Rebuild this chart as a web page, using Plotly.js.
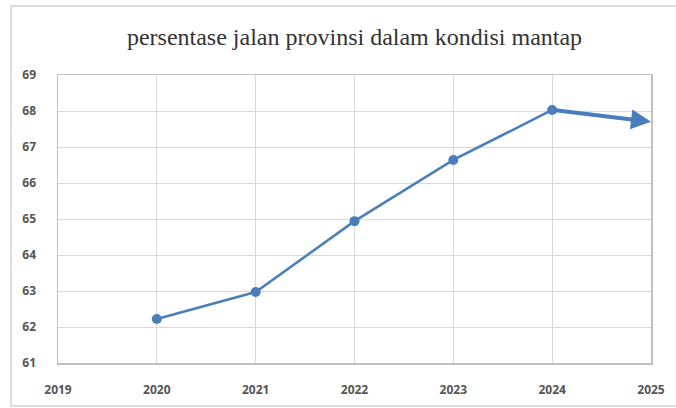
<!DOCTYPE html>
<html>
<head>
<meta charset="utf-8">
<script src="https://cdn.plot.ly/plotly-3.0.1.min.js"></script>
<style>html,body{margin:0;padding:0;background:#fff;}#chart{width:676px;height:408px;}</style>
</head>
<body>
<div id="chart"></div>
<script>
const years = [2020, 2021, 2022, 2023, 2024];
const values = [62.22, 62.97, 64.94, 66.64, 68.03];
const arrowFrom = [2024, 68.03];
const arrowTo = [2025, 67.7];
const xTicks = [2019, 2020, 2021, 2022, 2023, 2024, 2025];
const yTicks = [61, 62, 63, 64, 65, 66, 67, 68, 69];
const titleText = 'persentase jalan provinsi dalam kondisi mantap';

const blue = '#4a7ebb';
const tickFont = {family: 'Open Sans, sans-serif', size: 12, color: '#555555', weight: 'bold'};

const data = [{
  x: years, y: values, type: 'scatter', mode: 'lines+markers',
  line: {color: blue, width: 2.5},
  marker: {color: blue, size: 10},
  hoverinfo: 'skip'
}];

const layout = {
  width: 676, height: 408,
  margin: {l: 58, r: 25, t: 75, b: 45},
  paper_bgcolor: '#ffffff', plot_bgcolor: '#ffffff',
  showlegend: false,
  title: {text: titleText, x: 0.5, xref: 'paper', xanchor: 'center', y: 1 - 37/408, yref: 'container', yanchor: 'middle',
    font: {family: 'Liberation Serif, Times New Roman, serif', size: 24, color: '#333333'}},
  xaxis: {range: [2019, 2025], tickvals: xTicks, ticktext: xTicks.map(String), showgrid: true, gridcolor: '#d9d9d9', gridwidth: 1,
    showline: true, linecolor: '#c0c0c0', linewidth: 1.5, mirror: true, zeroline: false, ticks: '', ticklabelstandoff: 15, tickfont: tickFont},
  yaxis: {range: [61, 69], tickvals: yTicks, ticktext: yTicks.map(String), showgrid: true, gridcolor: '#d9d9d9', gridwidth: 1,
    showline: true, linecolor: '#c0c0c0', linewidth: 1.5, mirror: true, zeroline: false, ticks: '', ticklabelstandoff: 18, tickfont: tickFont},
  shapes: [{type: 'rect', xref: 'paper', yref: 'paper', x0: (11-58)/593, x1: (700-58)/593, y0: -(406-363)/288, y1: 1 + (75-6)/288,
    line: {color: '#dcdcdc', width: 2}, fillcolor: 'rgba(0,0,0,0)', layer: 'below'}],
  annotations: [{x: arrowTo[0], y: arrowTo[1], ax: arrowFrom[0], ay: arrowFrom[1], xref: 'x', yref: 'y', axref: 'x', ayref: 'y',
    showarrow: true, arrowhead: 2, arrowsize: 1, arrowwidth: 4, arrowcolor: blue, text: ''}]
};

Plotly.newPlot('chart', data, layout, {staticPlot: true, displayModeBar: false});
</script>
</body>
</html>
